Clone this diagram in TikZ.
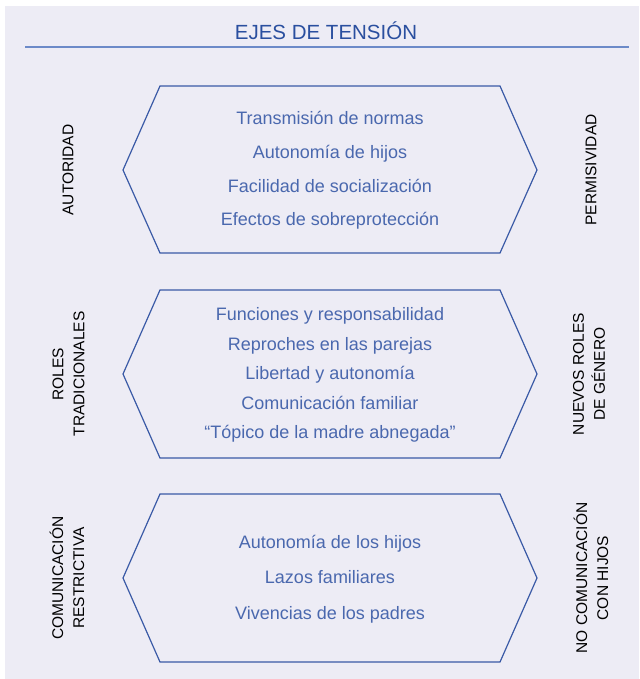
\documentclass[tikz,border=0pt]{standalone}
\usepackage{fontspec}
\setmainfont{Liberation Sans}
\usepackage{xcolor}
\usepackage{tikz}
\usetikzlibrary{positioning}
\definecolor{ejebg}{HTML}{EDECF5}
\definecolor{ejetitle}{HTML}{2A4F9F}
\definecolor{ejeitem}{HTML}{4A68AE}
\definecolor{ejehex}{HTML}{3A5AA6}
\definecolor{ejerule}{HTML}{6C8AC8}

\begin{document}
\begin{tikzpicture}[x=1pt,y=-1pt,
  title/.style={text=ejetitle,font=\fontsize{20.5}{24}\selectfont,text height=15pt,text depth=0pt},
  item/.style={text=ejeitem,font=\fontsize{18}{22}\selectfont,text height=13pt,text depth=0pt},
  pole/.style={rotate=90,align=center,text=black,font=\fontsize{15.5}{21}\selectfont},
  hexa/.style={draw=ejehex,line width=1.2pt,line join=miter}]
  \useasboundingbox (0,0) rectangle (639,679);
  \fill[ejebg] (5,6) rectangle (639,679);

  % title
  \node[title] (titulo) at (326,32) {EJES DE TENSIÓN};
  \coordinate (r1) at (25,47);
  \coordinate (r2) at (629,47);
  \draw[ejerule,line width=2pt] (r1) -- (r2);

  % autoridad / permisividad
  \draw[hexa] (160,86) -- (500,86) -- (537,170) -- (500,253) -- (160,253) -- (123,170) -- cycle;
  \node[item] (a1) at (330,118) {Transmisión de normas};
  \node[item] (a2) at (330,152) {Autonomía de hijos};
  \node[item] (a3) at (330,186) {Facilidad de socialización};
  \node[item] (a4) at (330,219) {Efectos de sobreprotección};
  \node[pole] (autoridad) at (68,170) {AUTORIDAD};
  \node[pole] (permisividad) at (591,170) {PERMISIVIDAD};

  % roles
  \draw[hexa] (160,290) -- (500,290) -- (537,374) -- (500,458) -- (160,458) -- (123,374) -- cycle;
  \node[item] (b1) at (330,314) {Funciones y responsabilidad};
  \node[item] (b2) at (330,344) {Reproches en las parejas};
  \node[item] (b3) at (330,373) {Libertad y autonomía};
  \node[item] (b4) at (330,403) {Comunicación familiar};
  \node[item] (b5) at (330,432) {“Tópico de la madre abnegada”};
  \node[pole] (tradicionales) at (68.5,374) {ROLES\\TRADICIONALES};
  \node[pole] (nuevos) at (589,374) {NUEVOS ROLES\\DE GÉNERO};

  % comunicacion
  \draw[hexa] (160,494) -- (500,494) -- (537,578) -- (500,662) -- (160,662) -- (123,578) -- cycle;
  \node[item] (c1) at (330,542) {Autonomía de los hijos};
  \node[item] (c2) at (330,577) {Lazos familiares};
  \node[item] (c3) at (330,613) {Vivencias de los padres};
  \node[pole] (restrictiva) at (67,578) {COMUNICACIÓN\\RESTRICTIVA};
  \node[pole] (nocom) at (591,578) {NO COMUNICACIÓN\\CON HIJOS};
\end{tikzpicture}
\end{document}
